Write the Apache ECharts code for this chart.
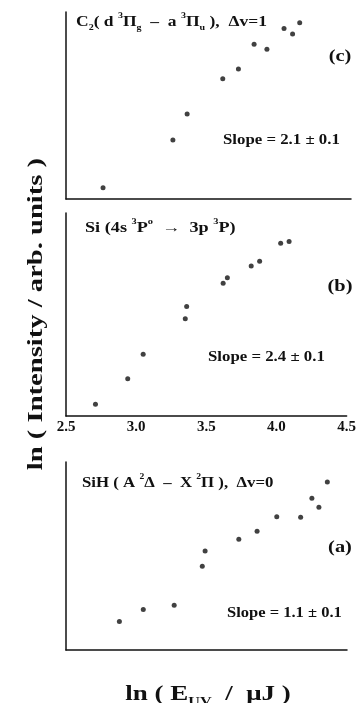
<!DOCTYPE html>
<html>
<head>
<meta charset="utf-8">
<script src="https://cdn.jsdelivr.net/npm/echarts@6/dist/echarts.min.js"></script>
<style>html,body{margin:0;padding:0;background:#fff;}#c{width:359px;height:703px;}</style>
</head>
<body>
<div id="c"></div>
<script>
// x tick labels (shared energy axis)
const xTicks = ['2.5', '3.0', '3.5', '4.0', '4.5'];
// Panel (c): C2 Swan band
const cX = [2.76, 3.25, 3.35, 3.60, 3.71, 3.82, 3.91, 4.03, 4.09, 4.14];
const cY = [0.60, 3.16, 4.55, 6.43, 6.95, 8.27, 8.01, 9.12, 8.82, 9.43];
// Panel (b): Si line
const bX = [2.71, 2.94, 3.05, 3.35, 3.36, 3.62, 3.65, 3.82, 3.88, 4.03, 4.09];
const bY = [0.58, 1.84, 3.04, 4.79, 5.40, 6.54, 6.81, 7.39, 7.62, 8.51, 8.59];
// Panel (a): SiH
const aX = [2.88, 3.05, 3.27, 3.47, 3.49, 3.73, 3.86, 4.00, 4.17, 4.25, 4.30, 4.36];
const aY = [1.51, 2.16, 2.38, 4.45, 5.27, 5.89, 6.31, 7.09, 7.06, 8.07, 7.59, 8.94];

const FONT = '"Liberation Serif", "DejaVu Serif", serif';
const pair = (xs, ys) => xs.map((x, i) => [x, ys[i]]);

const grids = [
  {left: 66, right: 8, top: 12, height: 187},
  {left: 66, right: 10, top: 213, height: 203},
  {left: 66, right: 12, top: 462, height: 188}
];
const xAxes = grids.map((g, i) => ({
  type: 'value', gridIndex: i, min: 2.5, max: 4.5, interval: 0.5,
  axisLine: {show: true, lineStyle: {color: '#111', width: 1.5}},
  axisTick: {show: false},
  splitLine: {show: false},
  axisLabel: {
    show: i === 1, color: '#111', fontFamily: FONT, fontWeight: 'bold', fontSize: 15, margin: 4,
    formatter: v => xTicks[Math.round((v - 2.5) / 0.5)]
  }
}));
const yAxes = grids.map((g, i) => ({
  type: 'value', gridIndex: i, min: 0, max: 10,
  axisLine: {show: true, lineStyle: {color: '#111', width: 1.5}},
  axisTick: {show: false}, axisLabel: {show: false}, splitLine: {show: false}
}));
const mk = (d, i) => ({
  type: 'scatter', xAxisIndex: i, yAxisIndex: i, data: d,
  symbol: 'circle', symbolSize: 5, itemStyle: {color: '#111'}, silent: true
});

const rich = {
  sup: {fontSize: 8, fontFamily: FONT, fontWeight: 'bold', verticalAlign: 'top', fill: '#111'},
  sub: {fontSize: 8, fontFamily: FONT, fontWeight: 'bold', verticalAlign: 'bottom', fill: '#111'},
  subL: {fontSize: 12, fontFamily: FONT, fontWeight: 'bold', verticalAlign: 'bottom', fill: '#111'}
};
function txt(text, x, y, size, sx, align, extra) {
  return Object.assign({
    type: 'text', x: x, y: y, scaleX: sx,
    style: {
      text: text, fill: '#111', font: 'bold ' + size + 'px ' + FONT,
      textAlign: align || 'left', textVerticalAlign: 'middle', rich: rich, lineHeight: size + 6
    }
  }, extra || {});
}

const chart = echarts.init(document.getElementById('c'), null, {renderer: 'canvas'});
chart.setOption({
  animation: false,
  backgroundColor: '#fff',
  grid: grids,
  xAxis: xAxes,
  yAxis: yAxes,
  series: [mk(pair(cX, cY), 0), mk(pair(bX, bY), 1), mk(pair(aX, aY), 2)],
  graphic: [
    txt('C{sub|2}( d {sup|3}Π{sub|g}  –  a {sup|3}Π{sub|u} ),  Δv=1', 76, 22, 14, 1.25),
    txt('(c)', 340, 57, 17, 1.2, 'center'),
    txt('Slope = 2.1 ± 0.1', 223, 140, 14, 1.2),
    txt('Si (4s {sup|3}P{sup|o}  →  3p {sup|3}P)', 85, 228, 14, 1.3),
    txt('(b)', 340, 287, 17, 1.2, 'center'),
    txt('Slope = 2.4 ± 0.1', 208, 357, 14, 1.2),
    txt('SiH ( A {sup|2}Δ  –  X {sup|2}Π ),  Δv=0', 82, 483, 14, 1.2),
    txt('(a)', 340, 548, 17, 1.2, 'center'),
    txt('Slope = 1.1 ± 0.1', 227, 613, 14, 1.18),
    txt('ln ( E{subL|UV}  /  μJ )', 208, 695, 20, 1.35, 'center'),
    txt('ln ( Intensity / arb. units )', 36, 314, 22, 1.3, 'center', {rotation: Math.PI / 2})
  ]
});
</script>
</body>
</html>
